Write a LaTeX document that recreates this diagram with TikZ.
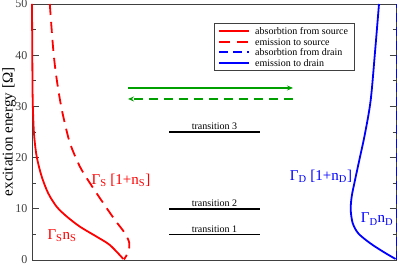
\documentclass[tikz,border=0pt]{standalone}
\usepackage{fontspec}
\setmainfont{Liberation Serif}
\usepackage{tikz}
\usetikzlibrary{arrows.meta,positioning,calc}
\definecolor{SourceRed}{HTML}{FF0000}
\definecolor{DrainBlue}{HTML}{0000FF}
\definecolor{FlowGreen}{HTML}{00A000}
\colorlet{FrameGray}{black!75}

\begin{document}
\begin{tikzpicture}[
    x=1pt, y=5.12pt,
    >=Stealth,
    frame/.style={draw=FrameGray,line width=0.7pt},
    tick/.style={draw=FrameGray,line width=0.6pt},
    ticklabel/.style={left,inner sep=1pt,font=\fontsize{12}{14}\selectfont,text=FrameGray},
    srcabs/.style={SourceRed,line width=1.8pt},
    srcemit/.style={SourceRed,line width=1.8pt,dash pattern=on 11pt off 7pt},
    drnemit/.style={DrainBlue,line width=1.8pt},
    drnabs/.style={DrainBlue,line width=1.8pt,dash pattern=on 9pt off 5pt},
    flow/.style={FlowGreen,line width=1.4pt,-{Stealth[length=6pt,width=5pt]}},
    level/.style={black,line width=1.5pt},
    levellabel/.style={above,inner sep=1.5pt,font=\fontsize{10}{12}\selectfont},
    ratelabel/.style={font=\fontsize{15}{18}\selectfont},
    entry/.style={right,inner sep=0pt,font=\fontsize{10}{12}\selectfont}
  ]
    \useasboundingbox (0,-0.977) rectangle (399,50.78);

    % frame and ticks
    \coordinate (origin) at (32,0);
    \coordinate (corner) at (396.5,50);
    \draw[frame] (origin) rectangle (corner);
    \foreach \e in {0,10,...,50} {
      \draw[tick] (32,\e) -- (39,\e);
      \draw[tick] (389.5,\e) -- (396.5,\e);
      \node[ticklabel] (tick\e) at (28.5,\e) {\e};
    }
    \foreach \e in {5,15,...,45} {
      \draw[tick] (32,\e) -- (36,\e);
      \draw[tick] (392.5,\e) -- (396.5,\e);
    }
    \node[rotate=90,font=\fontsize{15}{18}\selectfont] (ylabel) at (9,25) {excitation energy [Ω]};

    % rates of the source
    \draw[srcabs] plot[smooth] coordinates {(32,50) (32.3,40) (32.7,31.2) (34,24.7) (36.7,20.2) (41.7,16.3)
      (48.3,13) (56.7,10.4) (66.7,8.5) (80,6.5) (96.7,4.55) (110,2.9) (123.3,0.2)};
    \draw[srcemit] plot[smooth] coordinates {(49.8,50) (51.7,44.9) (53.3,41) (55,37.8) (57.3,34.5) (60,31.25)
      (63.3,28) (70,22.8) (80,18.2) (90,15) (103.3,11.1) (115,7.8) (125,5.2) (129.3,3.3) (128.3,1.6) (124,0.1)};

    % rates of the drain
    \draw[drnemit] plot[smooth] coordinates {(379,50) (375,40.6) (370.7,31.25) (365,24.7) (359.3,19.5) (355,15.6)
      (351.7,12.4) (350.7,9.8) (352.7,7.2) (358.3,5.2) (370,3.3) (383.3,1.6) (395.5,0.2)};
    \draw[drnabs] (396.5,0) -- (396.5,50);

    \node[ratelabel,SourceRed] (srcEmit) at (121,15.6) {Γ\textsubscript{S} [1+n\textsubscript{S}]};
    \node[ratelabel,SourceRed] (srcAbs) at (62,4.7) {Γ\textsubscript{S}n\textsubscript{S}};
    \node[ratelabel,DrainBlue] (drnEmit) at (321,16.4) {Γ\textsubscript{D} [1+n\textsubscript{D}]};
    \node[ratelabel,DrainBlue] (drnAbs) at (377,8.0) {Γ\textsubscript{D}n\textsubscript{D}};

    % transport direction
    \coordinate (flowL) at (128,33.6);
    \coordinate (flowR) at (293,33.6);
    \coordinate (backR) at (293,31.45);
    \coordinate (backL) at (128,31.45);
    \draw[flow] (flowL) -- (flowR);
    \draw[flow,dash pattern=on 9pt off 6pt] (backR) -- (backL);

    % levels
    \foreach \lev/\e in {1/5,2/10,3/25} {
      \coordinate (lev\lev L) at (169,\e);
      \coordinate (lev\lev R) at (260,\e);
      \draw[level] (lev\lev L) -- node[levellabel] {transition \lev} (lev\lev R);
    }

    % legend
    \node[draw=FrameGray,line width=0.6pt,minimum width=140pt,minimum height=47pt,anchor=north west,inner sep=0pt] (legend) at (214,46.29) {};
    \foreach \row/\e/\sty/\txt in {1/44.73/srcabs/absorbtion from source,
                                   2/42.58/srcemit/emission to source,
                                   3/40.63/drnabs/absorbtion from drain,
                                   4/38.48/drnemit/emission to drain} {
      \coordinate (key\row a) at (219,\e);
      \coordinate (key\row b) at (249,\e);
      \draw[\sty,line width=1.4pt] (key\row a) -- (key\row b);
      \node[entry] (entry\row) at (255,\e) {\txt};
    }
  \end{tikzpicture}
\end{document}
